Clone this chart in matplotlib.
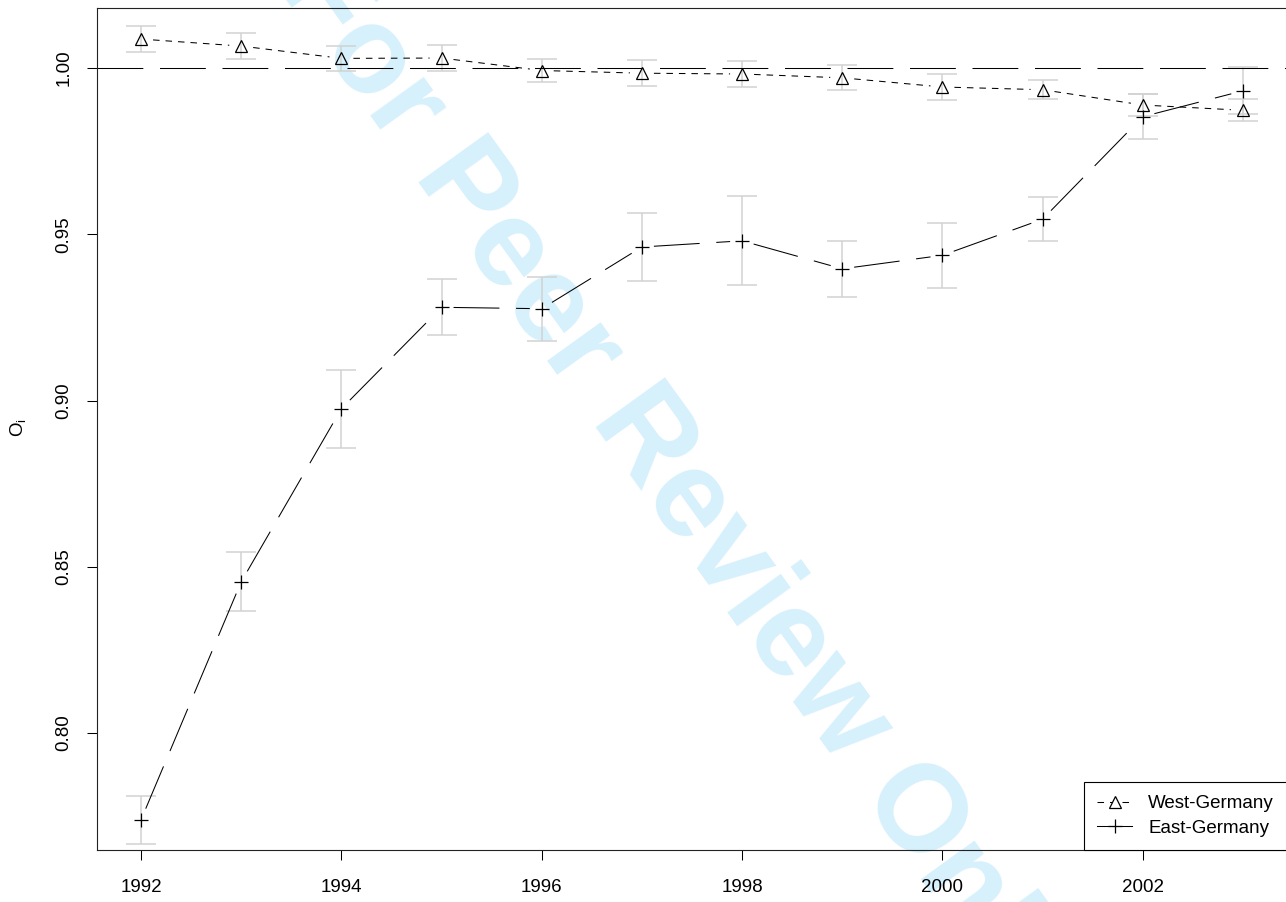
import numpy as np
import matplotlib
matplotlib.use("Agg")
import matplotlib.pyplot as plt
from matplotlib.lines import Line2D

# ---- data ----
years = [1992, 1993, 1994, 1995, 1996, 1997, 1998, 1999, 2000, 2001, 2002, 2003]
west = [1.0087, 1.0066, 1.0029, 1.0030, 0.99925, 0.99844, 0.9982, 0.99705,
        0.99429, 0.99347, 0.98887, 0.98728]
west_err = [0.0039, 0.0038, 0.0037, 0.0038, 0.00355, 0.00385, 0.0039, 0.00376,
            0.0039, 0.0029, 0.0032, 0.0033]
east = [0.77392, 0.84550, 0.89754, 0.92803, 0.92761, 0.94617, 0.94803, 0.93961,
        0.94367, 0.95453, 0.98537, 0.99314]
east_err = [0.0072, 0.0089, 0.0117, 0.0084, 0.0096, 0.0103, 0.0134, 0.0085,
            0.0098, 0.0066, 0.0068, 0.0071]
series_labels = ["West-Germany", "East-Germany"]
xticks = [1992, 1994, 1996, 1998, 2000, 2002]
yticks = [0.80, 0.85, 0.90, 0.95, 1.00]
ylabel = r"O$_{\mathrm{i}}$"
watermark = "For Peer Review Only"

plt.rcParams["font.family"] = ["Liberation Sans", "DejaVu Sans"]
plt.rcParams["mathtext.fontset"] = "custom"
plt.rcParams["mathtext.rm"] = "Liberation Sans"
plt.rcParams["mathtext.it"] = "Liberation Sans:italic"
plt.rcParams["lines.scale_dashes"] = False

W, H, DPI = 1286, 902, 100
fig = plt.figure(figsize=(W / DPI, H / DPI), dpi=DPI)
fig.patch.set_facecolor("white")

# axes box: left 97px, right 1287px, top 8px, bottom 850px
ax = fig.add_axes([97 / W, 1 - 850 / H, 1190 / W, 842 / H])
ax.set_facecolor("none")
ax.set_xlim(1991.56, 2003.44)
ax.set_ylim(0.76481, 1.01805)

# watermark behind the plot
fig.text(276 / W, 1 + 14 / H, watermark, rotation=-54.2, rotation_mode="anchor",
         ha="left", va="baseline", fontsize=89, fontweight="bold",
         color="#d6f0fc", zorder=-1)

LW = 0.75
west_dash = (4.7, 4.3)
long_dash = (33.0, 12.0)


def gapped(x, y, gap_px, **kw):
    pts = ax.transData.transform(np.column_stack([x, y]))
    inv = ax.transData.inverted()
    for i in range(len(pts) - 1):
        p0, p1 = pts[i], pts[i + 1]
        d = p1 - p0
        L = np.hypot(*d)
        if L <= 2 * gap_px:
            continue
        u = d / L
        a = inv.transform(p0 + u * gap_px)
        b = inv.transform(p1 - u * gap_px)
        ax.plot([a[0], b[0]], [a[1], b[1]], **kw)


# reference line at 1
ax.axhline(1.0, color="black", lw=LW, dashes=long_dash, zorder=2)

# error bars
for vals, errs in ((west, west_err), (east, east_err)):
    ax.errorbar(years, vals, yerr=errs, fmt="none", ecolor="#d2d2d2",
                elinewidth=1.1, capsize=10.8, capthick=1.1, zorder=1)

# lines with gaps around points (type="b")
gapped(years, west, 12, color="black", lw=LW, dashes=west_dash, zorder=3)
gapped(years, east, 12, color="black", lw=LW, dashes=long_dash, zorder=3)

# markers
ax.plot(years, west, linestyle="none", marker="^", ms=8.5, mfc="none",
        mec="black", mew=0.9, zorder=4)
ax.plot(years, east, linestyle="none", marker="+", ms=9.5, mec="black",
        mew=0.9, zorder=4)

# axes styling
for s in ("left", "bottom", "top", "right"):
    ax.spines[s].set_linewidth(0.8)
    ax.spines[s].set_color("#222222")

ax.set_xticks(xticks)
ax.set_xticklabels([str(t) for t in xticks])
ax.set_yticks(yticks)
ax.set_yticklabels(["%.2f" % t for t in yticks])
ax.tick_params(axis="both", direction="out", length=7.5, width=0.75,
               labelsize=13.5, colors="black")
ax.tick_params(axis="x", pad=13.2)
ax.tick_params(axis="y", pad=10, labelrotation=90)
for lab in ax.get_yticklabels():
    lab.set_va("center")

fig.text(18 / W, 1 - 428 / H, ylabel, rotation=90, ha="center", va="center",
         fontsize=13.5)

# legend
handles = [
    Line2D([], [], color="black", lw=LW, dashes=west_dash, marker="^", ms=8.5,
           mfc="white", mec="black", mew=0.9),
    Line2D([], [], color="black", lw=LW, marker="+", ms=9.5, mec="black",
           mew=0.9),
]
leg = ax.legend(handles, series_labels, loc="lower right", bbox_to_anchor=(1, 0),
                borderaxespad=0, fancybox=False, edgecolor="black", framealpha=1,
                fontsize=13.5, handlelength=1.87, handletextpad=0.85,
                borderpad=0.7, labelspacing=0.4)
leg.get_frame().set_linewidth(0.8)

fig.savefig("out.png", dpi=DPI)
